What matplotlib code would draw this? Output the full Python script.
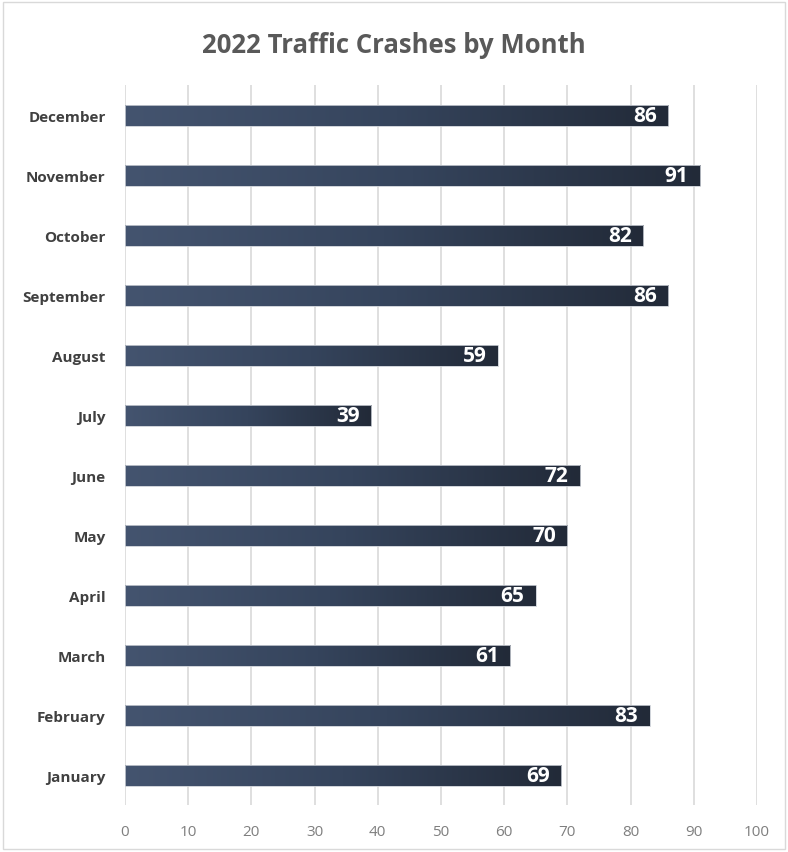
import numpy as np
import matplotlib
matplotlib.use('Agg')
from matplotlib import pyplot as plt
from matplotlib.colors import LinearSegmentedColormap

# Data
months = ['January', 'February', 'March', 'April', 'May', 'June',
          'July', 'August', 'September', 'October', 'November', 'December']
crashes = [69, 83, 61, 65, 70, 72, 39, 59, 86, 82, 91, 86]
xticks = [0, 10, 20, 30, 40, 50, 60, 70, 80, 90, 100]

plt.rcParams['font.family'] = ['Open Sans', 'DejaVu Sans']

fig = plt.figure(figsize=(7.88, 8.53), dpi=100)
ax = fig.add_axes([0.1586, 0.0551, 0.802, 0.844])

# Gradient colormap for the bars (lighter slate on the left, dark on the right)
cmap = LinearSegmentedColormap.from_list('bar', ['#44546f', '#35445c', '#222a38'])
grad = np.linspace(0, 1, 256).reshape(1, -1)

ypos = np.arange(len(months))
bars = ax.barh(ypos, crashes, height=0.35, color='none', edgecolor='#c8ccd3', linewidth=0.6, zorder=3)
for b, v in zip(bars, crashes):
    x0, y0 = b.get_x(), b.get_y()
    w, h = b.get_width(), b.get_height()
    ax.imshow(grad, cmap=cmap, aspect='auto', extent=(x0, x0 + w, y0, y0 + h),
              zorder=2, interpolation='bicubic')
    ax.text(x0 + w - 1.8, y0 + h / 2, str(v), ha='right', va='center',
            color='white', fontsize=15, fontweight='bold', zorder=4)

ax.set_xlim(0, 100)
ax.set_ylim(-0.5, len(months) - 0.5)
ax.set_xticks(xticks)
ax.set_xticklabels([str(t) for t in xticks], color='#7f7f7f', fontsize=11)
ax.set_yticks(ypos)
ax.set_yticklabels(months, color='#404040', fontsize=11, fontweight='bold')
ax.tick_params(axis='both', length=0)
ax.tick_params(axis='x', pad=14)
ax.tick_params(axis='y', pad=14)
ax.xaxis.grid(True, color='#d9d9d9', linewidth=1.2, zorder=0)
ax.set_axisbelow(True)
for s in ax.spines.values():
    s.set_visible(False)

fig.text(0.5, 0.947, '2022 Traffic Crashes by Month', ha='center', va='center',
         fontsize=18.5, fontweight='bold', color='#595959')

# thin border around the chart area
fig.patches.append(plt.Rectangle((0.004, 0.004), 0.992, 0.992, transform=fig.transFigure,
                                 fill=False, edgecolor='#d9d9d9', linewidth=1))

plt.savefig('out.png', dpi=100)
